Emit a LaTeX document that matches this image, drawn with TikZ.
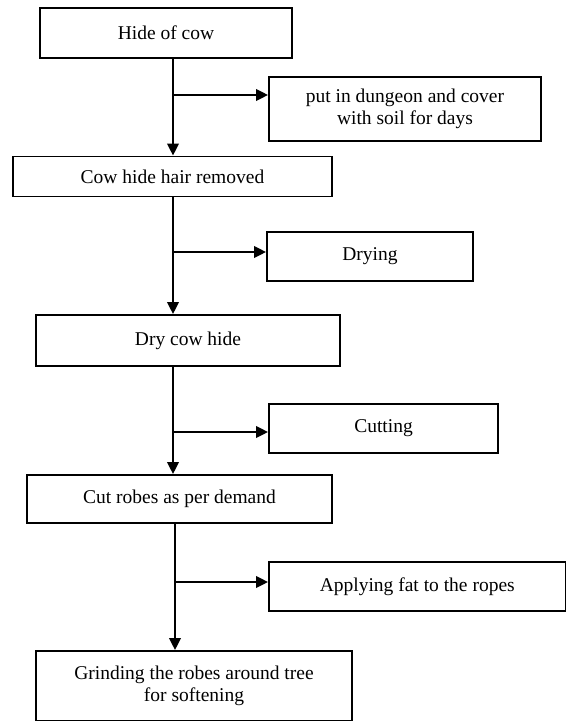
\documentclass[tikz,border=0pt]{standalone}
\usepackage{fontspec}
\setmainfont{Liberation Serif}
\usetikzlibrary{arrows.meta}
\begin{document}
\begin{tikzpicture}[x=1pt,y=-1pt,
  box/.style={draw, line width=1.9pt, inner sep=0pt, align=center,
    font=\fontsize{19.5}{21.5}\selectfont},
  arr/.style={line width=2pt, -{Triangle[length=12pt,width=11.5pt]}}]
\useasboundingbox (0,0) rectangle (567,722);
\node[box, minimum width=252pt, minimum height=50pt] (b1) at (166,33) {Hide of cow};
\node[box, minimum width=272pt, minimum height=64pt] (b2) at (405,109) {put in dungeon and cover\\with soil for days};
\node[box, minimum width=319pt, minimum height=40pt] (b3) at (172.5,176.5) {Cow hide hair removed};
\node[box, minimum width=206pt, minimum height=49pt] (b4) at (370,256.5) {Drying};
\node[box, minimum width=304pt, minimum height=51pt] (b5) at (188,340.5) {Dry cow hide};
\node[box, minimum width=229pt, minimum height=49pt] (b6) at (383.5,428.5) {Cutting};
\node[box, minimum width=305pt, minimum height=48pt] (b7) at (179.5,499) {Cut robes as per demand};
\node[box, minimum width=296.5pt, minimum height=49pt] (b8) at (417.25,586.5) {Applying fat to the ropes};
\node[box, minimum width=316pt, minimum height=69.5pt] (b9) at (194,685.75) {Grinding the robes around tree\\for softening};
\coordinate (j1) at (173,95);
\coordinate (j2) at (173,252);
\coordinate (j3) at (173,432);
\coordinate (j4) at (175,582);
\draw[arr] (j1 |- b1.south) -- (j1 |- b3.north);
\draw[arr] (j1) -- (j1 -| b2.west);
\draw[arr] (j2 |- b3.south) -- (j2 |- b5.north);
\draw[arr] (j2) -- (j2 -| b4.west);
\draw[arr] (j3 |- b5.south) -- (j3 |- b7.north);
\draw[arr] (j3) -- (j3 -| b6.west);
\draw[arr] (j4 |- b7.south) -- (j4 |- b9.north);
\draw[arr] (j4) -- (j4 -| b8.west);
\end{tikzpicture}
\end{document}
